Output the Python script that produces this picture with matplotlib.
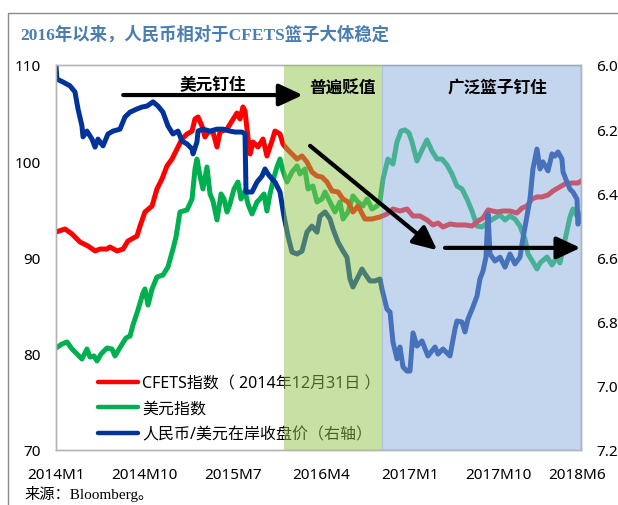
import matplotlib
matplotlib.use("Agg")
import matplotlib.pyplot as plt
from matplotlib.lines import Line2D
from matplotlib.patches import Rectangle

plt.rcParams['font.family'] = ['Noto Sans', 'Noto Sans CJK SC', 'DejaVu Sans']

# ---------------- data (x = months since 2014M1) ----------------
cfets_t = [0, 0.92, 1.63, 2.44, 3.26, 3.97, 4.48, 5.19, 5.49, 6.21,
           6.82, 7.32, 8.24, 8.55, 9.05, 9.77, 10.27, 10.78, 11.29, 11.80,
           12.31, 12.82, 13.33, 13.84, 14.14, 14.45, 14.85, 15.16, 15.46, 15.97,
           16.38, 16.68, 17.40, 17.90, 18.41, 18.72, 19.02, 19.23, 19.43, 19.74,
           20.04, 20.55, 21.06, 21.46, 21.97, 22.28, 22.79, 23.09, 23.50, 24.01,
           24.52, 25.03, 25.53, 26.04, 26.55, 27.06, 27.57, 28.08, 28.69, 29.20,
           29.71, 30.21, 30.72, 31.43, 32.15, 32.96, 33.67, 34.28, 34.99, 35.71,
           36.32, 37.03, 37.74, 38.35, 38.86, 39.37, 40.08, 40.79, 41.61, 42.32,
           42.93, 43.44, 43.95, 44.86, 45.47, 46.18, 46.89, 47.41, 47.91, 48.42,
           48.93, 49.44, 50.05, 50.56, 51.07, 51.78, 52.49, 53.10, 53.41]
cfets_v = [92.65, 92.96, 92.44, 91.61, 91.19, 90.68, 90.88, 90.88, 91.09, 90.68,
           90.88, 91.71, 92.23, 93.27, 94.73, 95.35, 97.12, 98.16, 99.51, 100.23,
           101.27, 102.31, 102.83, 103.14, 104.39, 104.60, 103.66, 102.52, 103.04, 103.04,
           101.48, 103.04, 103.35, 104.18, 105.01, 104.39, 105.64, 105.22, 103.35, 100.75,
           102.00, 101.48, 102.31, 100.55, 102.10, 103.14, 102.83, 101.79, 101.27, 100.75,
           100.23, 100.55, 99.92, 98.88, 98.47, 98.36, 97.84, 96.91, 96.81, 96.08,
           95.77, 94.73, 95.35, 94.00, 94.00, 94.21, 94.52, 95.04, 94.83, 95.04,
           94.31, 94.31, 93.90, 93.38, 93.58, 93.17, 93.48, 93.38, 93.38, 93.27,
           93.79, 94.10, 94.94, 94.73, 94.83, 94.83, 94.62, 95.14, 95.35, 96.08,
           96.29, 96.29, 96.49, 96.91, 97.22, 97.64, 97.74, 97.74, 97.95]

usd_t = [0, 0.61, 1.12, 1.63, 2.14, 2.64, 3.15, 3.46, 3.87, 4.17,
         4.58, 5.19, 5.70, 6.00, 6.61, 7.12, 7.53, 7.83, 8.34, 8.85,
         9.05, 9.36, 9.77, 10.27, 10.88, 11.39, 11.90, 12.21, 12.61, 13.33,
         13.84, 14.14, 14.34, 14.65, 14.95, 15.36, 15.67, 15.97, 16.38, 16.79,
         17.09, 17.40, 17.70, 18.11, 18.51, 18.82, 19.23, 19.53, 19.94, 20.45,
         20.75, 21.16, 21.46, 21.77, 22.18, 22.48, 22.79, 23.09, 23.50, 24.01,
         24.52, 24.82, 25.33, 25.64, 26.14, 26.55, 27.06, 27.37, 27.87, 28.38,
         28.89, 29.20, 29.71, 30.21, 30.72, 31.23, 31.64, 32.15, 32.66, 32.96,
         33.27, 33.77, 34.28, 34.69, 35.10, 35.50, 35.91, 36.22, 36.72, 37.23,
         37.74, 38.25, 38.76, 39.27, 39.78, 40.28, 40.79, 41.30, 41.81, 42.32,
         42.83, 43.34, 43.84, 44.46, 45.17, 45.68, 46.18, 46.69, 47.20, 47.71,
         48.02, 48.52, 48.93, 49.24, 49.95, 50.46, 50.97, 51.27, 51.58, 51.98,
         52.29, 52.59, 53.00, 53.31]
usd_v = [80.60, 81.01, 81.22, 80.49, 79.97, 79.45, 80.49, 79.66, 79.77, 79.25,
         79.97, 80.60, 80.49, 79.77, 80.81, 81.64, 81.84, 82.99, 84.55, 86.31,
         86.73, 85.06, 86.73, 87.97, 88.18, 89.01, 90.88, 92.13, 94.73, 94.94,
         96.08, 99.19, 100.23, 98.47, 97.12, 99.40, 96.60, 95.87, 93.90, 96.60,
         96.08, 94.73, 95.56, 97.12, 97.84, 96.08, 96.91, 95.56, 94.52, 95.77,
         96.08, 96.60, 94.83, 96.60, 98.36, 99.40, 100.23, 98.99, 97.84, 98.88,
         99.51, 98.68, 99.19, 97.12, 97.43, 95.77, 96.08, 96.81, 95.77, 94.73,
         95.77, 94.00, 94.73, 96.39, 95.77, 95.35, 96.08, 95.04, 95.35, 95.87,
         98.16, 100.23, 99.71, 102.00, 103.14, 103.25, 102.94, 102.00, 100.03, 101.17,
         102.21, 101.06, 100.23, 100.23, 99.61, 98.68, 97.43, 97.12, 96.08, 94.83,
         93.27, 93.17, 93.58, 94.00, 94.42, 93.90, 94.31, 94.00, 93.27, 91.92,
         90.36, 89.53, 88.81, 89.43, 90.05, 89.22, 90.05, 89.43, 90.88, 92.75,
         94.21, 95.04, 94.31, 94.52]

cny_t = [0, 0.10, 0.71, 1.42, 1.93, 2.24, 2.64, 2.75, 3.15, 3.66,
         3.97, 4.27, 4.78, 5.29, 5.80, 6.51, 7.02, 7.53, 8.24, 8.75,
         9.26, 9.87, 10.38, 10.88, 11.39, 11.90, 12.41, 12.82, 13.33, 13.84,
         13.94, 14.34, 14.45, 14.95, 15.67, 16.38, 16.99, 17.70, 18.21, 18.92,
         19.23, 19.33, 19.94, 20.45, 20.96, 21.26, 21.57, 21.97, 22.28, 22.79,
         23.19, 23.60, 24.01, 24.52, 25.03, 25.53, 26.04, 26.55, 26.86, 27.37,
         27.87, 28.18, 28.69, 29.20, 29.60, 29.91, 30.21, 30.72, 31.13, 31.43,
         31.94, 32.45, 32.96, 33.16, 33.67, 33.98, 34.28, 34.69, 34.99, 35.30,
         35.71, 36.01, 36.32, 36.72, 37.23, 37.84, 38.56, 38.86, 39.37, 40.08,
         40.59, 40.79, 41.30, 41.61, 41.91, 42.42, 42.83, 43.13, 43.44, 43.74,
         43.95, 44.15, 44.66, 45.17, 45.68, 46.18, 46.69, 47.20, 47.41, 47.91,
         48.22, 48.52, 48.93, 49.24, 49.54, 50.05, 50.46, 50.76, 51.07, 51.47,
         51.58, 51.98, 52.29, 52.59, 53.00, 53.10, 53.31]
cny_v = [6.003, 6.044, 6.053, 6.065, 6.084, 6.137, 6.190, 6.224, 6.206, 6.231,
         6.256, 6.231, 6.252, 6.215, 6.206, 6.200, 6.162, 6.147, 6.137, 6.131,
         6.128, 6.115, 6.128, 6.147, 6.190, 6.215, 6.206, 6.237, 6.246, 6.262,
         6.277, 6.240, 6.206, 6.200, 6.206, 6.200, 6.200, 6.206, 6.209, 6.209,
         6.215, 6.396, 6.396, 6.365, 6.346, 6.324, 6.340, 6.355, 6.365, 6.396,
         6.471, 6.533, 6.583, 6.589, 6.580, 6.521, 6.502, 6.521, 6.471, 6.458,
         6.480, 6.511, 6.552, 6.580, 6.599, 6.667, 6.692, 6.661, 6.636, 6.651,
         6.673, 6.673, 6.667, 6.698, 6.761, 6.770, 6.863, 6.916, 6.879, 6.941,
         6.954, 6.954, 6.835, 6.876, 6.860, 6.907, 6.879, 6.901, 6.885, 6.907,
         6.823, 6.798, 6.801, 6.832, 6.792, 6.754, 6.720, 6.667, 6.642, 6.599,
         6.464, 6.589, 6.611, 6.599, 6.630, 6.589, 6.620, 6.599, 6.558, 6.471,
         6.418, 6.324, 6.262, 6.324, 6.302, 6.330, 6.277, 6.284, 6.271, 6.293,
         6.333, 6.365, 6.387, 6.396, 6.418, 6.496, 6.471]

tick_pos = [0, 9, 18, 27, 36, 45, 53]
tick_labels = ['2014M1', '2014M10', '2015M7', '2016M4', '2017M1', '2017M10', '2018M6']
left_ticks = [70, 80, 90, 100, 110]
right_ticks = [6.0, 6.2, 6.4, 6.6, 6.8, 7.0, 7.2]
phase_green = (23.2, 33.16)
phase_blue = (33.16, 53.41)

labels = ['CFETS指数（ 2014年12月31日 ）', '美元指数', '人民币/美元在岸收盘价（右轴）']
c_red, c_green, c_blue = '#ff0000', '#00b050', '#003399'

# ---------------- figure ----------------
fig = plt.figure(figsize=(6.18, 5.06), dpi=100)
fig.patches.append(Rectangle((8/618, -0.1), 1.2, 1.1 - 14/506, transform=fig.transFigure,
                             fill=False, edgecolor='#8a8a8a', lw=1.0))

ax = fig.add_axes([56/618, 1-451/506, 525/618, 385/506])
ax2 = ax.twinx()

ax.plot(cfets_t, cfets_v, color=c_red, lw=3.6, solid_joinstyle='round', zorder=3)
ax.plot(usd_t, usd_v, color=c_green, lw=3.6, solid_joinstyle='round', zorder=2)
ax2.plot(cny_t, cny_v, color=c_blue, lw=3.6, solid_joinstyle='round', zorder=2)

ax.set_xlim(0, 53.41)
ax.set_ylim(70, 110)
ax2.set_ylim(7.2, 6.0)
ax.set_yticks(left_ticks)
ax.set_yticklabels([str(v) for v in left_ticks])
ax2.set_yticks(right_ticks)
ax2.set_yticklabels([f'{v:.1f}' for v in right_ticks])
ax.set_xticks(tick_pos)
ax.set_xticklabels(tick_labels)

for a in (ax, ax2):
    a.tick_params(length=0, labelsize=11)
    for s in a.spines.values():
        s.set_color('#b4b4b4')
        s.set_linewidth(1.0)
ax.tick_params(axis='y', pad=11)
ax.tick_params(axis='x', pad=12)
ax2.tick_params(axis='y', pad=11)

# legend (drawn under the phase shading)
handles = [Line2D([], [], color=c, lw=3.2, solid_capstyle='round') for c in (c_red, c_green, c_blue)]
leg = ax2.legend(handles, labels, loc='lower left', bbox_to_anchor=(0.08, 0.02),
                 frameon=False, handlelength=2.5, handletextpad=0.25,
                 labelspacing=0.6, borderpad=0, borderaxespad=0,
                 prop={'family': ['Noto Sans', 'Noto Sans CJK SC'], 'size': 11.5})
leg.set_zorder(4)

# phase shading on top, translucent
ax2.axvspan(*phase_green, color='#91c44e', alpha=0.51, lw=0, zorder=6)
ax2.axvspan(*phase_blue, facecolor='#8db0dd', alpha=0.51, edgecolor='#7f9fc4', lw=0.8, zorder=6)

# annotations
cjk = ['Noto Sans CJK SC']
ax2.text(0.299, 0.951, '美元钉住', transform=ax2.transAxes, ha='center', va='center',
         fontsize=12, fontweight='bold', family=cjk, zorder=8)
ax2.text(0.545, 0.940, '普遍贬值', transform=ax2.transAxes, ha='center', va='center',
         fontsize=12, fontweight='bold', family=cjk, zorder=8)
ax2.text(0.840, 0.945, '广泛篮子钉住', transform=ax2.transAxes, ha='center', va='center',
         fontsize=12, fontweight='bold', family=cjk, zorder=8)

arrow_style = dict(arrowstyle='-|>,head_length=0.6,head_width=0.28', lw=3, color='black',
                   mutation_scale=24, shrinkA=0, shrinkB=0)
for (x0, y0), (x1, y1) in [((0.128, 0.922), (0.470, 0.922)),
                           ((0.484, 0.790), (0.726, 0.519)),
                           ((0.741, 0.525), (0.999, 0.525))]:
    ax2.annotate('', xy=(x1, y1), xytext=(x0, y0), xycoords='axes fraction',
                 textcoords='axes fraction', arrowprops=arrow_style, zorder=9)

# title and source
fig.text(20/618, 1-35/506, '2016年以来，人民币相对于CFETS篮子大体稳定', ha='left', va='center',
         fontsize=12.5, fontweight='bold', color='#4a7db0',
         family=['Liberation Serif', 'Noto Sans CJK SC'])
fig.text(24/618, 1-494/506, '来源：Bloomberg。', ha='left', va='center', fontsize=11,
         family=['Liberation Serif', 'Noto Sans CJK SC'])

fig.savefig('out.png', dpi=100)
